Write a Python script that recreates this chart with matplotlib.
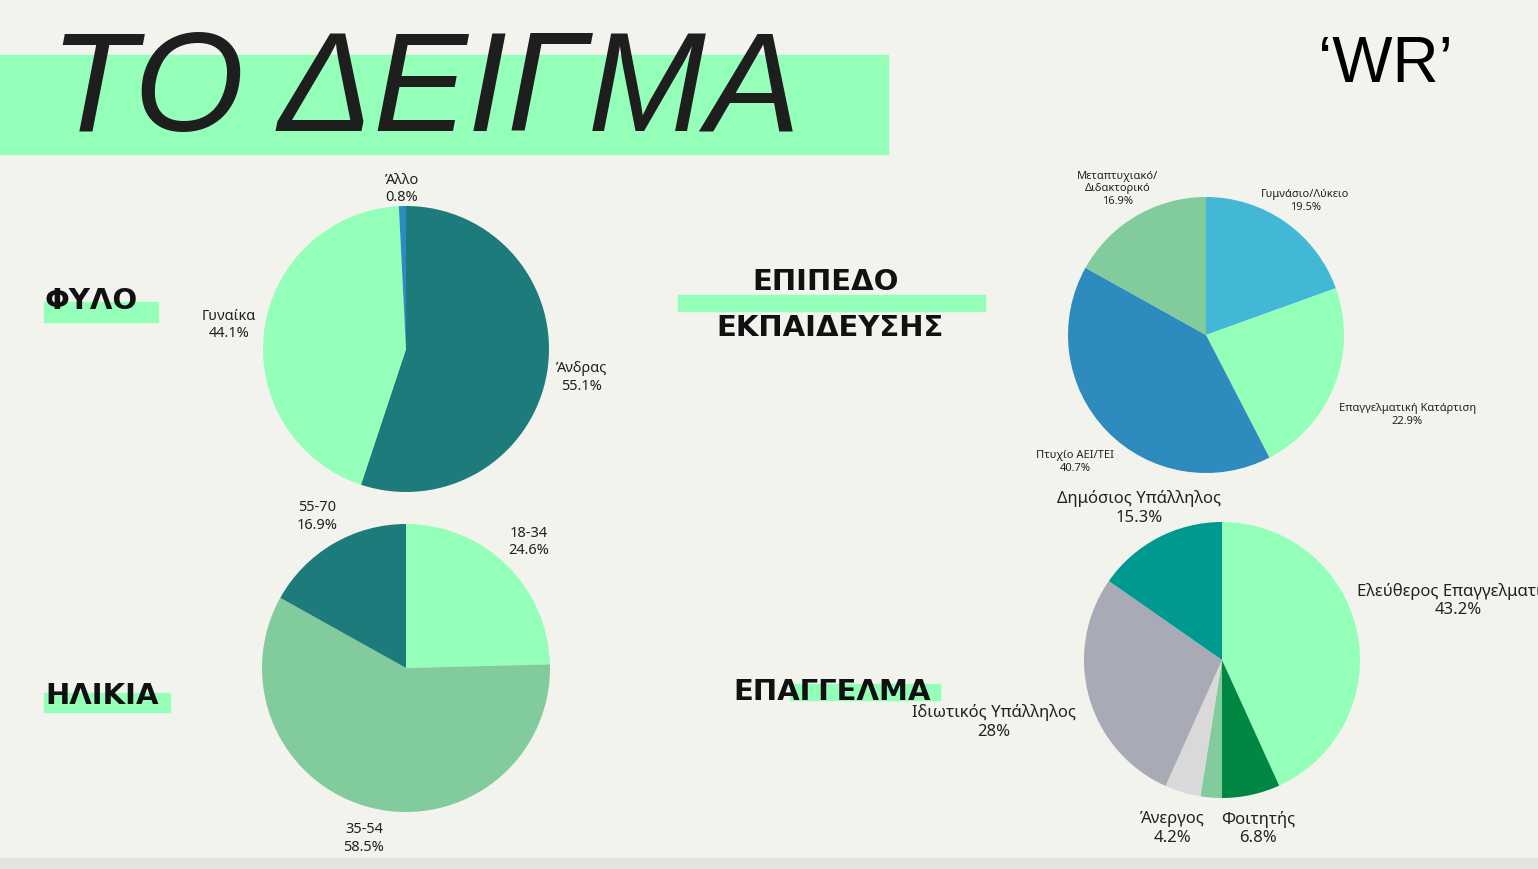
import matplotlib
matplotlib.use("Agg")
import matplotlib.pyplot as plt
from matplotlib.patches import Rectangle

plt.rcParams['font.family'] = ['Noto Sans', 'DejaVu Sans']

gender_labels = ["Άνδρας", "Γυναίκα", "Άλλο"]
gender_values = [55.1, 44.1, 0.8]
gender_colors = ["#1e7b7b", "#94ffb8", "#2e8bc0"]

age_labels = ["18-34", "35-54", "55-70"]
age_values = [24.6, 58.5, 16.9]
age_colors = ["#94ffb8", "#82cb9c", "#1e7b7b"]

edu_labels = ["Γυμνάσιο/Λύκειο", "Επαγγελματική Κατάρτιση", "Πτυχίο ΑΕΙ/ΤΕΙ", "Μεταπτυχιακό/\nΔιδακτορικό"]
edu_values = [19.5, 22.9, 40.7, 16.9]
edu_colors = ["#42b7d6", "#94ffb8", "#2e8bbd", "#82cb9c"]

job_labels = ["Ελεύθερος Επαγγελματίας", "Φοιτητής", "", "Άνεργος", "Ιδιωτικός Υπάλληλος", "Δημόσιος Υπάλληλος"]
job_values = [43.2, 6.8, 2.5, 4.2, 28.0, 15.3]
job_pct = ["43.2%", "6.8%", "", "4.2%", "28%", "15.3%"]
job_colors = ["#94ffb8", "#008744", "#82cb9c", "#d9d9d9", "#a8abb5", "#009990"]

W, H = 1538, 869
fig = plt.figure(figsize=(W/100, H/100), dpi=100)
fig.patch.set_facecolor("#f3f3ee")

def px_rect(x0, y0, x1, y1, color):
    fig.patches.append(Rectangle((x0/W, 1-y1/H), (x1-x0)/W, (y1-y0)/H,
                                 transform=fig.transFigure, color=color, zorder=0))

HEAD = dict(fontsize=21, weight='black', va='center', family=['DejaVu Sans'], color='#111111')

px_rect(0, 55, 888, 154, "#94ffb8")
fig.text(50/W, 1-94/H, "ΤΟ ΔΕΙΓΜΑ", fontsize=102, style='italic', color="#1e1e1e",
         va='center', ha='left', family=['Liberation Sans', 'DejaVu Sans'])
fig.text(1385/W, 1-65/H, "‘WR’", fontsize=46, color="black", va='center', ha='center',
         family=['Liberation Sans', 'DejaVu Sans'])
px_rect(0, 858, W, 869, "#e3e3e0")

px_rect(44, 302, 158, 322, "#94ffb8")
fig.text(45/W, 1-301/H, "ΦΥΛΟ", ha='left', **HEAD)
px_rect(44, 693, 170, 712, "#94ffb8")
fig.text(45/W, 1-696/H, "ΗΛΙΚΙΑ", ha='left', **HEAD)
px_rect(678, 295, 985, 311, "#94ffb8")
fig.text(826/W, 1-282/H, "ΕΠΙΠΕΔΟ", ha='center', **HEAD)
fig.text(830/W, 1-328/H, "ΕΚΠΑΙΔΕΥΣΗΣ", ha='center', **HEAD)
px_rect(790, 684, 940, 700, "#94ffb8")
fig.text(832/W, 1-692/H, "ΕΠΑΓΓΕΛΜΑ", ha='center', **HEAD)

def pie_at(cx, cy, r, values, labels, colors, fs, ld, pcts=None):
    ax = fig.add_axes([(cx-r)/W, 1-(cy+r)/H, 2*r/W, 2*r/H])
    if pcts is None:
        pcts = [f"{v:g}%" for v in values]
    labs = [f"{l}\n{p}" if l else "" for l, p in zip(labels, pcts)]
    _, texts = ax.pie(values, labels=labs, colors=colors, startangle=90, counterclock=False,
           labeldistance=ld, textprops=dict(fontsize=fs, ha='center', color='#222222'),
           wedgeprops=dict(linewidth=0))
    for t in texts:
        t.set_ha('center'); t.set_clip_on(False)
    ax.set_aspect('equal')
    ax.set_xlim(-1, 1); ax.set_ylim(-1, 1)
    return ax, texts

_, gt = pie_at(406, 349, 143, gender_values, gender_labels, gender_colors, 10.5, 1.25)
gt[2].set_position((-0.03, 1.12))
gt[0].set_position((1.23, -0.2))
_, at = pie_at(406, 668, 144, age_values, age_labels, age_colors, 10.5, 1.22)
_, et = pie_at(1206, 335, 138, edu_values, edu_labels, edu_colors, 8, 1.25)
et[1].set_position((1.46, -0.58))
et[2].set_position((-0.95, -0.92))
et[3].set_position((-0.64, 1.06))
et[0].set_position((0.72, 0.97))
ax, jt = pie_at(1222, 660, 138, job_values, job_labels, job_colors, 12, 1.22, job_pct)
jt[0].set_position((0.98, 0.43)); jt[0].set_ha('left'); jt[0].set_multialignment('center')
jt[4].set_position((-1.65, -0.45))
jt[5].set_position((-0.6, 1.1))
jt[3].set_position((-0.36, -1.22))
jt[1].set_position((0.26, -1.22))

fig.savefig("out.png", dpi=100, facecolor=fig.get_facecolor())
